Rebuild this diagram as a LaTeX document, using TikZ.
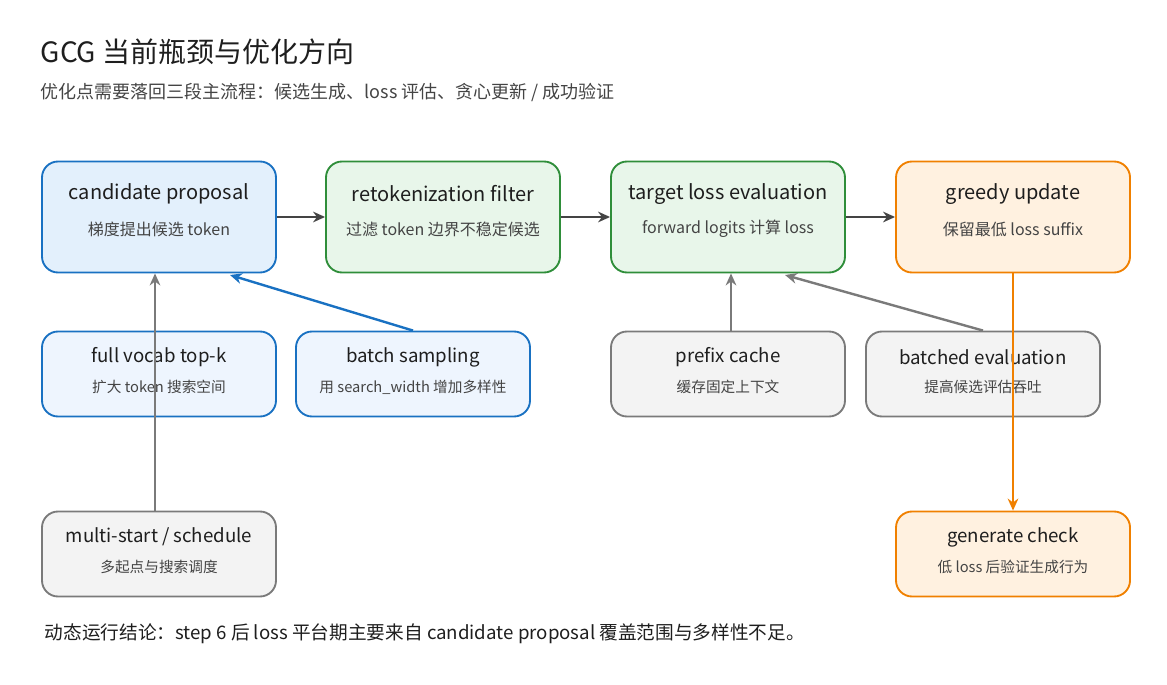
\documentclass[tikz,border=0pt]{standalone}
\usepackage{fontspec}
\setmainfont{Noto Sans CJK SC}
\usetikzlibrary{arrows.meta}
\definecolor{bB}{HTML}{1971C2}\definecolor{bF}{HTML}{E3F0FC}\definecolor{bF2}{HTML}{EEF5FE}
\definecolor{gB}{HTML}{2F8E3A}\definecolor{gF}{HTML}{E8F6EA}
\definecolor{oB}{HTML}{F08000}\definecolor{oF}{HTML}{FFF1E0}
\definecolor{kB}{HTML}{7A7A7A}\definecolor{kF}{HTML}{F3F3F3}
\definecolor{tx}{HTML}{1E1E1E}\definecolor{sub}{HTML}{444444}
\begin{document}
\begin{tikzpicture}[x=0.75pt,y=-0.75pt,
 box/.style={draw=#1B,fill=#1F,line width=1.4pt,rounded corners=12pt,minimum width=234*0.75pt,inner sep=0pt},
 big/.style={minimum height=111*0.75pt},
 sm/.style={minimum height=85*0.75pt},
 arr/.style={-{Stealth[length=9pt,width=8pt]},line width=1.8pt,draw=#1},
 ttl/.style={font=\fontsize{15}{18}\selectfont,text=tx},
 st/.style={font=\fontsize{11}{13}\selectfont,text=sub}]
\useasboundingbox (0,0) rectangle (1167,685);
\node[anchor=west,font=\fontsize{21}{25}\selectfont,text=tx] (title) at (36,52) {GCG 当前瓶颈与优化方向};
\node[anchor=west,font=\fontsize{13.5}{16}\selectfont,text=sub] (subt) at (36,92) {优化点需要落回三段主流程：候选生成、loss 评估、贪心更新 / 成功验证};
\node[anchor=west,font=\fontsize{14}{17}\selectfont,text=tx] (concl) at (40,634) {动态运行结论：step 6 后 loss 平台期主要来自 candidate proposal 覆盖范围与多样性不足。};
% boxes
\node[box=b,big] (cand) at (159,217) {};
\node[box=g,big] (reto) at (443,217) {};
\node[box=g,big] (targ) at (728,217) {};
\node[box=o,big] (greedy) at (1013,217) {};
\node[box=b,sm,fill=bF2] (full) at (159,374) {};
\node[box=b,sm,fill=bF2] (batch) at (413,374) {};
\node[box=k,sm] (prefix) at (728,374) {};
\node[box=k,sm] (beval) at (983,374) {};
\node[box=k,sm] (multi) at (159,554) {};
\node[box=o,sm] (gen) at (1013,554) {};
% texts
\foreach \n/\a/\b in {cand/candidate proposal/梯度提出候选 token, reto/retokenization filter/过滤 token 边界不稳定候选, targ/target loss evaluation/forward logits 计算 loss, greedy/greedy update/保留最低 loss suffix}{
 \node[ttl] at ([yshift=23*0.75pt]\n.center) {\a};
 \node[st,font=\fontsize{12}{14}\selectfont] at ([yshift=-12*0.75pt]\n.center) {\b};}
\foreach \n/\a/\b in {full/full vocab top-k/扩大 token 搜索空间, batch/batch sampling/用 search\_width 增加多样性, prefix/prefix cache/缓存固定上下文, beval/batched evaluation/提高候选评估吞吐, multi/{multi-start / schedule}/多起点与搜索调度, gen/generate check/低 loss 后验证生成行为}{
 \node[ttl,font=\fontsize{14}{17}\selectfont] at ([yshift=17*0.75pt]\n.center) {\a};
 \node[st] at ([yshift=-13*0.75pt]\n.center) {\b};}
% arrows
\draw[arr=sub] (cand.east) -- (reto.west);
\draw[arr=sub] (reto.east) -- (targ.west);
\draw[arr=sub] (targ.east) -- (greedy.west);
\draw[arr=kB] (multi.north -| 155,0) -- (cand.south -| 155,0);
\draw[arr=bB] (batch.north) -- (230,275);
\draw[arr=kB] (prefix.north -| 731,0) -- (targ.south -| 731,0);
\draw[arr=kB] (beval.north) -- (785,275);
\draw[arr=oB] (greedy.south) -- (gen.north);
\end{tikzpicture}
\end{document}
